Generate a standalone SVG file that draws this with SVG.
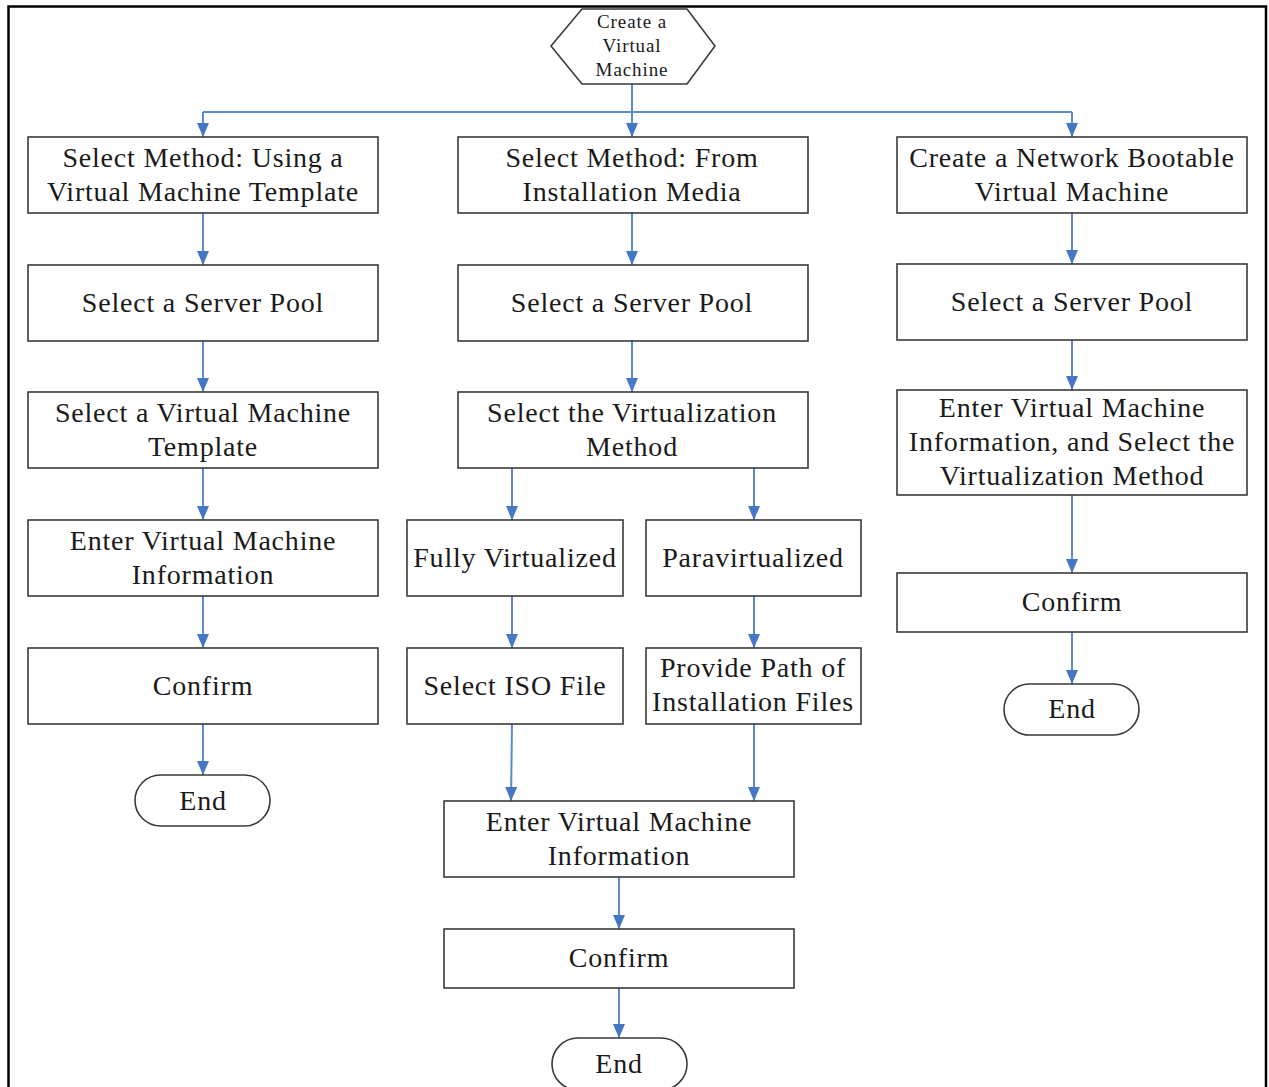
<svg xmlns="http://www.w3.org/2000/svg" width="1269" height="1087" viewBox="0 0 1269 1087">
<defs>
<marker id="ah" viewBox="0 0 14 12" refX="14" refY="6" markerWidth="14" markerHeight="12" markerUnits="userSpaceOnUse" orient="auto">
<path d="M0,0 L14,6 L0,12 Z" fill="#4677c4"/>
</marker>
<style>
.box{fill:#fff;stroke:#3a3a3a;stroke-width:1.6}
.t{font-family:"Liberation Serif","Times New Roman",serif;font-size:28px;letter-spacing:0.8px;fill:#1a1a1a;text-anchor:middle}
.ts{font-family:"Liberation Serif","Times New Roman",serif;font-size:19px;letter-spacing:0.9px;fill:#1a1a1a;text-anchor:middle}
.c{fill:none;stroke:#5b8bd0;stroke-width:2}
.ca{fill:none;stroke:#5b8bd0;stroke-width:2;marker-end:url(#ah)}
</style>
</defs>
<rect x="0" y="0" width="1269" height="1087" fill="#fff"/>
<path d="M8.5,1090 L8.5,6.5 L1266,6.5 L1266,1090" fill="none" stroke="#000" stroke-width="2.5"/>

<g id="connectors">
<path class="ca" d="M632,84 L632,137"/>
<path class="c" d="M203,112 L1072,112"/>
<path class="ca" d="M203,112 L203,137"/>
<path class="ca" d="M1072,112 L1072,137"/>
<path class="ca" d="M203,213 L203,265"/>
<path class="ca" d="M203,341 L203,392"/>
<path class="ca" d="M203,468 L203,520"/>
<path class="ca" d="M203,596 L203,648"/>
<path class="ca" d="M203,724 L203,775"/>
<path class="ca" d="M632,213 L632,265"/>
<path class="ca" d="M632,341 L632,392"/>
<path class="ca" d="M512,468 L512,520"/>
<path class="ca" d="M754,468 L754,520"/>
<path class="ca" d="M512,596 L512,648"/>
<path class="ca" d="M754,596 L754,648"/>
<path class="ca" d="M512,724 L511,801"/>
<path class="ca" d="M754,724 L754,801"/>
<path class="ca" d="M619,877 L619,929"/>
<path class="ca" d="M619,988 L619,1038"/>
<path class="ca" d="M1072,213 L1072,264"/>
<path class="ca" d="M1072,340 L1072,390"/>
<path class="ca" d="M1072,495 L1072,573"/>
<path class="ca" d="M1072,632 L1072,684"/>
</g>

<g id="start">
<polygon class="box" points="551,46 582,9 687,9 715,46 687,84 582,84"/>
<text class="ts" x="632" y="28">Create a</text>
<text class="ts" x="632" y="52">Virtual</text>
<text class="ts" x="632" y="76">Machine</text>
</g>

<g id="l1"><rect class="box" x="28" y="137" width="350" height="76"/>
<text class="t" x="203" y="167">Select Method: Using a</text>
<text class="t" x="203" y="201">Virtual Machine Template</text></g>
<g id="l2"><rect class="box" x="28" y="265" width="350" height="76"/>
<text class="t" x="203" y="312">Select a Server Pool</text></g>
<g id="l3"><rect class="box" x="28" y="392" width="350" height="76"/>
<text class="t" x="203" y="422">Select a Virtual Machine</text>
<text class="t" x="203" y="456">Template</text></g>
<g id="l4"><rect class="box" x="28" y="520" width="350" height="76"/>
<text class="t" x="203" y="550">Enter Virtual Machine</text>
<text class="t" x="203" y="584">Information</text></g>
<g id="l5"><rect class="box" x="28" y="648" width="350" height="76"/>
<text class="t" x="203" y="695">Confirm</text></g>
<g id="l6"><rect class="box" x="135" y="775" width="135" height="51" rx="25.5"/>
<text class="t" x="203" y="810">End</text></g>

<g id="c1"><rect class="box" x="458" y="137" width="350" height="76"/>
<text class="t" x="632" y="167">Select Method: From</text>
<text class="t" x="632" y="201">Installation Media</text></g>
<g id="c2"><rect class="box" x="458" y="265" width="350" height="76"/>
<text class="t" x="632" y="312">Select a Server Pool</text></g>
<g id="c3"><rect class="box" x="458" y="392" width="350" height="76"/>
<text class="t" x="632" y="422">Select the Virtualization</text>
<text class="t" x="632" y="456">Method</text></g>
<g id="c4a"><rect class="box" x="407" y="520" width="216" height="76"/>
<text class="t" x="515" y="567">Fully Virtualized</text></g>
<g id="c4b"><rect class="box" x="646" y="520" width="215" height="76"/>
<text class="t" x="753" y="567">Paravirtualized</text></g>
<g id="c5a"><rect class="box" x="407" y="648" width="216" height="76"/>
<text class="t" x="515" y="695">Select ISO File</text></g>
<g id="c5b"><rect class="box" x="646" y="648" width="215" height="76"/>
<text class="t" x="753" y="677">Provide Path of</text>
<text class="t" x="753" y="711">Installation Files</text></g>
<g id="c6"><rect class="box" x="444" y="801" width="350" height="76"/>
<text class="t" x="619" y="831">Enter Virtual Machine</text>
<text class="t" x="619" y="865">Information</text></g>
<g id="c7"><rect class="box" x="444" y="929" width="350" height="59"/>
<text class="t" x="619" y="967">Confirm</text></g>
<g id="c8"><rect class="box" x="552" y="1038" width="135" height="52" rx="26"/>
<text class="t" x="619" y="1073">End</text></g>

<g id="r1"><rect class="box" x="897" y="137" width="350" height="76"/>
<text class="t" x="1072" y="167">Create a Network Bootable</text>
<text class="t" x="1072" y="201">Virtual Machine</text></g>
<g id="r2"><rect class="box" x="897" y="264" width="350" height="76"/>
<text class="t" x="1072" y="311">Select a Server Pool</text></g>
<g id="r3"><rect class="box" x="897" y="390" width="350" height="105"/>
<text class="t" x="1072" y="417">Enter Virtual Machine</text>
<text class="t" x="1072" y="451">Information, and Select the</text>
<text class="t" x="1072" y="485">Virtualization Method</text></g>
<g id="r4"><rect class="box" x="897" y="573" width="350" height="59"/>
<text class="t" x="1072" y="611">Confirm</text></g>
<g id="r5"><rect class="box" x="1004" y="684" width="135" height="51" rx="25.5"/>
<text class="t" x="1072" y="718">End</text></g>
</svg>
